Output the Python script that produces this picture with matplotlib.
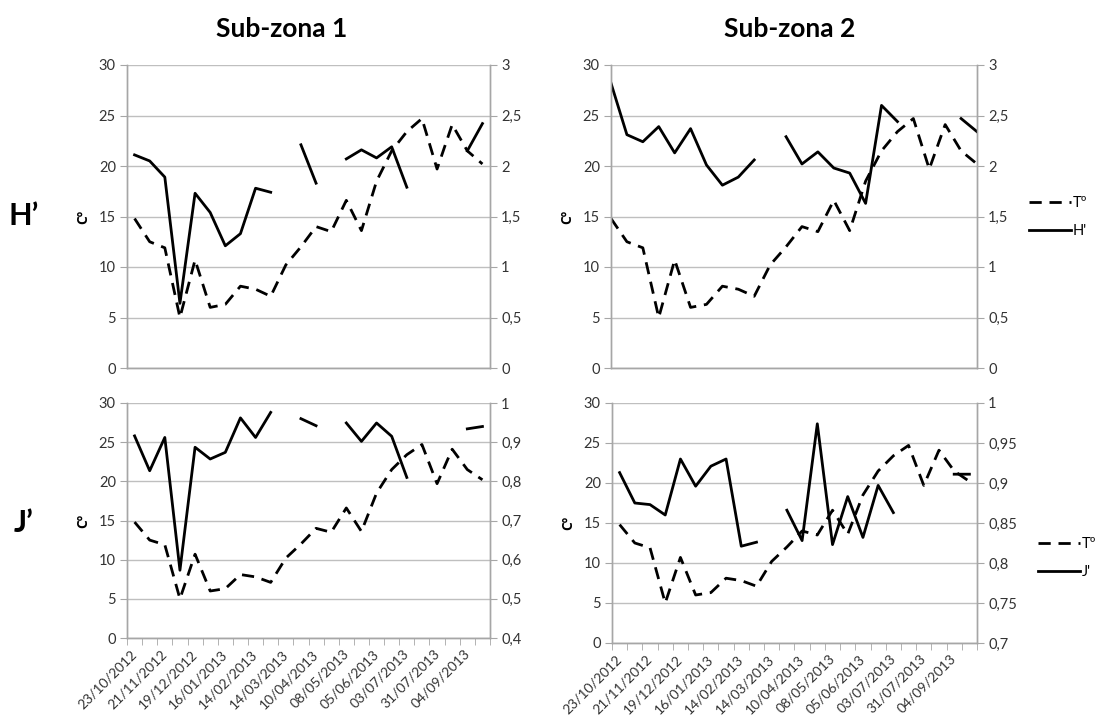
import numpy as np
import matplotlib
matplotlib.use("Agg")
import matplotlib.pyplot as plt
from matplotlib.ticker import FuncFormatter

plt.rcParams["font.family"] = ["Lato", "DejaVu Sans"]
plt.rcParams["font.size"] = 10.5

nan = np.nan

# sampling dates, one label every two samples
fechas = ["23/10/2012", "21/11/2012", "19/12/2012", "16/01/2013",
          "14/02/2013", "14/03/2013", "10/04/2013", "08/05/2013",
          "05/06/2013", "03/07/2013", "31/07/2013", "04/09/2013"]
n_muestras = 24

# water temperature (Cº)
temp = [14.8, 12.5, 11.9, 5.0, 10.7, 6.0, 6.3, 8.1, 7.8, 7.1, 10.2, 12.0,
        14.0, 13.5, 16.6, 13.6, 18.5, 21.5, 23.4, 24.7, 19.7, 24.1, 21.5, 20.2]

# Shannon diversity H'
h_sub1 = [2.11, 2.05, 1.89, 0.64, 1.73, 1.54, 1.21, 1.33, 1.78, 1.74, nan, 2.21,
          1.83, nan, 2.07, 2.16, 2.08, 2.19, 1.79, nan, nan, nan, 2.15, 2.42]
h_sub2 = [2.82, 2.31, 2.24, 2.39, 2.13, 2.37, 2.01, 1.81, 1.89, 2.06, nan, 2.29,
          2.02, 2.14, 1.98, 1.93, 1.63, 2.60, 2.44, nan, nan, nan, 2.47, 2.34]

# Pielou evenness J'
j_sub1 = [0.916, 0.827, 0.912, 0.573, 0.887, 0.857, 0.874, 0.962, 0.912, 0.976, nan, 0.960,
          0.942, nan, 0.949, 0.902, 0.949, 0.915, 0.810, nan, nan, nan, 0.934, 0.940]
j_sub2 = [0.913, 0.875, 0.873, 0.860, 0.930, 0.896, 0.921, 0.930, 0.821, 0.826, nan, 0.866,
          0.828, 0.974, 0.823, 0.883, 0.832, 0.897, 0.863, nan, nan, nan, 0.911, 0.911]

W, H = 1098, 717
fig = plt.figure(figsize=(W / 100, H / 100), dpi=100)

gris_eje = "#a6a6a6"
gris_grid = "#bfbfbf"
gris_txt = "#333333"
coma = FuncFormatter(lambda v, p: ("%g" % round(v, 3)).replace(".", ","))


def px_rect(x0, y0, x1, y1):
    return [x0 / W, 1 - y1 / H, (x1 - x0) / W, (y1 - y0) / H]


def panel(rect, serie, nombre, lim2, paso2, fechas_on, en_marcas, leyenda=None):
    x = np.arange(n_muestras)
    ax = fig.add_axes(px_rect(*rect))
    ax2 = ax.twinx()

    # temperature dashed on the left axis, index solid on the right axis
    ax.plot(x, temp, color="black", lw=2.0, linestyle=(0, (4.4, 2.8)),
            dash_capstyle="butt", label="Tº")
    l2, = ax2.plot(x, serie, color="black", lw=2.0, label=nombre)

    ax.set_ylim(0, 30)
    ax.set_yticks(np.arange(0, 31, 5))
    ax2.set_ylim(*lim2)
    ax2.set_yticks(np.arange(lim2[0], lim2[1] + paso2 / 2, paso2))
    ax2.yaxis.set_major_formatter(coma)

    if en_marcas:
        ax.set_xlim(0, n_muestras - 1)
    else:
        ax.set_xlim(-0.5, n_muestras - 0.5)

    ax.grid(axis="y", color=gris_grid, lw=1.0)
    ax.set_axisbelow(True)
    for a in (ax, ax2):
        a.spines["top"].set_visible(False)
        for s in ("left", "right", "bottom"):
            a.spines[s].set_color(gris_eje)
            a.spines[s].set_linewidth(1.0)
    ax.tick_params(axis="y", length=5, color=gris_eje, labelcolor=gris_txt,
                   labelsize=10.5, pad=3)
    ax2.tick_params(axis="y", length=5, color=gris_eje, labelcolor=gris_txt,
                    labelsize=10.5, pad=3)

    if fechas_on:
        ax.set_xticks(np.arange(0, n_muestras, 2))
        ax.set_xticklabels(fechas, rotation=45, ha="right", va="center",
                           rotation_mode="anchor")
        ax.set_xticks(np.arange(-0.5, n_muestras, 1), minor=True)
        ax.tick_params(axis="x", which="major", length=0, pad=10,
                       labelcolor=gris_txt, labelsize=10)
        ax.tick_params(axis="x", which="minor", length=5, color=gris_eje)
    else:
        ax.set_xticks([])

    ax.set_ylabel("Cº", fontsize=10, fontweight="bold", labelpad=6,
                  family=["Open Sans", "DejaVu Sans"])

    if leyenda is not None:
        h1 = ax.get_lines()[0]
        ax2.legend([h1, l2], ["Tº", nombre], loc="center left",
                   bbox_to_anchor=(leyenda[0] / W, 1 - leyenda[1] / H),
                   bbox_transform=fig.transFigure, frameon=False,
                   handlelength=2.9, handletextpad=0.1, labelspacing=1.0,
                   borderpad=0, borderaxespad=0, fontsize=10.5)
    return ax


# top row: H'
panel((127, 65, 490, 368), h_sub1, "H'", (0, 3), 0.5, False, False)
panel((611, 65, 977, 368), h_sub2, "H'", (0, 3), 0.5, False, True,
      leyenda=(1029, 217))

# bottom row: J'
panel((127, 403, 490, 638), j_sub1, "J'", (0.4, 1.0), 0.1, True, False)
panel((612, 403, 977, 643), j_sub2, "J'", (0.7, 1.0), 0.05, True, False,
      leyenda=(1038, 558))

fig.text(282 / W, 1 - 29 / H, "Sub-zona 1", ha="center", va="center",
         fontsize=19, fontweight="bold")
fig.text(790 / W, 1 - 29 / H, "Sub-zona 2", ha="center", va="center",
         fontsize=19, fontweight="bold")
fig.text(24 / W, 1 - 216 / H, "H’", ha="center", va="center",
         fontsize=22, fontweight="bold")
fig.text(24 / W, 1 - 523 / H, "J’", ha="center", va="center",
         fontsize=22, fontweight="bold")

fig.savefig("out.png", dpi=100)
